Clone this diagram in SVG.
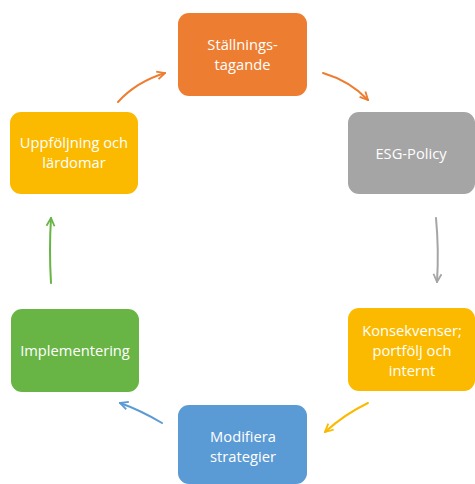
<svg xmlns="http://www.w3.org/2000/svg" width="475" height="484" viewBox="0 0 475 484">
<style>
.box{stroke:none}
.t{font-family:"Open Sans","Noto Sans","Liberation Sans",sans-serif;font-size:14.7px;fill:#ffffff;text-anchor:middle}
.c{fill:none;stroke-width:2;stroke-linecap:round}
</style>
<defs>
<marker id="mo" viewBox="0 0 10 10" refX="9" refY="5" markerWidth="10" markerHeight="10" markerUnits="userSpaceOnUse" orient="auto"><path d="M1,1 L9,5 L1,9" fill="none" stroke="#ED7D31" stroke-width="1.8"/></marker>
<marker id="mg" viewBox="0 0 10 10" refX="9" refY="5" markerWidth="10" markerHeight="10" markerUnits="userSpaceOnUse" orient="auto"><path d="M1,1 L9,5 L1,9" fill="none" stroke="#A5A5A5" stroke-width="1.8"/></marker>
<marker id="my" viewBox="0 0 10 10" refX="9" refY="5" markerWidth="10" markerHeight="10" markerUnits="userSpaceOnUse" orient="auto"><path d="M1,1 L9,5 L1,9" fill="none" stroke="#FBBA00" stroke-width="1.8"/></marker>
<marker id="mb" viewBox="0 0 10 10" refX="9" refY="5" markerWidth="10" markerHeight="10" markerUnits="userSpaceOnUse" orient="auto"><path d="M1,1 L9,5 L1,9" fill="none" stroke="#5B9BD5" stroke-width="1.8"/></marker>
<marker id="mgr" viewBox="0 0 10 10" refX="9" refY="5" markerWidth="10" markerHeight="10" markerUnits="userSpaceOnUse" orient="auto"><path d="M1,1 L9,5 L1,9" fill="none" stroke="#68B545" stroke-width="1.8"/></marker>
</defs>
<rect width="475" height="484" fill="#ffffff"/>
<g id="connectors">
<path class="c" d="M118,102 Q136,82 165,73" stroke="#ED7D31" marker-end="url(#mo)"/>
<path class="c" d="M323,73 Q350,81 368,100" stroke="#ED7D31" marker-end="url(#mo)"/>
<path class="c" d="M436,218 Q439,250 437,282" stroke="#A5A5A5" marker-end="url(#mg)"/>
<path class="c" d="M368,403 Q345,414 325,432" stroke="#FBBA00" marker-end="url(#my)"/>
<path class="c" d="M162,423 Q140,410 120,403" stroke="#5B9BD5" marker-end="url(#mb)"/>
<path class="c" d="M51,283 Q49,250 51,218" stroke="#68B545" marker-end="url(#mgr)"/>
</g>
<g id="stallningstagande">
<rect class="box" x="178" y="13" width="129" height="83" rx="11" fill="#ED7D31"/>
<text class="t" x="242.5" y="50">Ställnings-</text>
<text class="t" x="242.5" y="70">tagande</text>
</g>
<g id="esg-policy">
<rect class="box" x="348" y="112" width="127" height="82" rx="11" fill="#A5A5A5"/>
<text class="t" x="411" y="159">ESG-Policy</text>
</g>
<g id="konsekvenser">
<rect class="box" x="348" y="308" width="127" height="83" rx="11" fill="#FBBA00"/>
<text class="t" x="412" y="336">Konsekvenser;</text>
<text class="t" x="412" y="356">portfölj och</text>
<text class="t" x="412" y="376">internt</text>
</g>
<g id="modifiera">
<rect class="box" x="178" y="405" width="129" height="79" rx="11" fill="#5B9BD5"/>
<text class="t" x="243" y="442">Modifiera</text>
<text class="t" x="243" y="462">strategier</text>
</g>
<g id="implementering">
<rect class="box" x="11" y="309" width="128" height="83" rx="11" fill="#68B545"/>
<text class="t" x="75" y="356">Implementering</text>
</g>
<g id="uppfoljning">
<rect class="box" x="10" y="112" width="128" height="82" rx="11" fill="#FBBA00"/>
<text class="t" x="74" y="148">Uppföljning och</text>
<text class="t" x="74" y="168">lärdomar</text>
</g>
</svg>
